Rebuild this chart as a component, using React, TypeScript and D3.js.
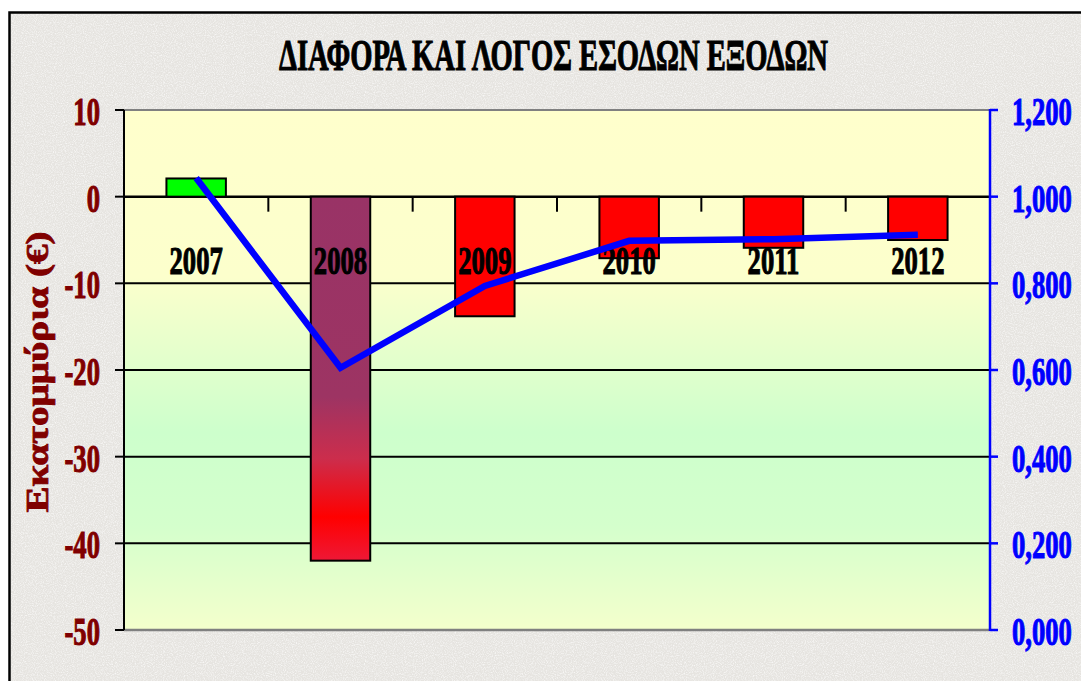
import React from "react";
import * as d3 from "d3";

const years = ["2007", "2008", "2009", "2010", "2011", "2012"];
const difference = [2.1, -42.0, -13.8, -7.1, -5.9, -5.0];
const ratio = [1.043, 0.605, 0.794, 0.898, 0.902, 0.912];
const leftTicks = [10, 0, -10, -20, -30, -40, -50];
const rightTicks = [0, 0.2, 0.4, 0.6, 0.8, 1.0, 1.2];

const title = "ΔΙΑΦΟΡΑ ΚΑΙ ΛΟΓΟΣ ΕΣΟΔΩΝ ΕΞΟΔΩΝ";
const yTitle = "Εκατομμύρια (€)";

const W = 1081;
const H = 681;
const plot = { left: 124, right: 990, top: 110, bottom: 630 };
const font = "'Liberation Serif', 'Times New Roman', serif";
const sx = 0.65; // the original is squeezed sideways

function Squeezed(props: any) {
  const { x, y, anchor, size, color, children, fit } = props;
  return (
    <text
      transform={`translate(${x},${y}) scale(${sx},1)`}
      textAnchor={anchor}
      fontFamily={font}
      fontWeight="bold"
      fontSize={size}
      fill={color}
      stroke={color}
      strokeWidth={1.1}
      textLength={fit ? fit / sx : undefined}
      lengthAdjust={fit ? "spacingAndGlyphs" : undefined}
    >
      {children}
    </text>
  );
}

export default function App() {
  const x = d3
    .scaleBand()
    .domain(years)
    .range([plot.left, plot.right])
    .paddingInner(0.588)
    .paddingOuter(0.294);
  const step = x.step();
  const yL = d3.scaleLinear().domain([-50, 10]).range([plot.bottom, plot.top]);
  const yR = d3.scaleLinear().domain([0, 1.2]).range([plot.bottom, plot.top]);
  const fmtR = (v: number) => d3.format(".3f")(v).replace(".", ",");
  const centre = (yr: string) => (x(yr) as number) + x.bandwidth() / 2;

  const line = d3
    .line<number>()
    .x((_, i) => centre(years[i]))
    .y((d) => yR(d));

  const minVal = d3.min(difference) as number;
  const barFill = (v: number) => (v > 0 ? "#00ff00" : v === minVal ? "url(#deep)" : "#ff0000");

  return (
    <svg width={W} height={H} style={{ position: "absolute", left: 0, top: 0 }}>
      <defs>
        <linearGradient id="plotBg" x1="0" y1="0" x2="0" y2="1">
          <stop offset="0" stopColor="#ffffcc" />
          <stop offset="0.32" stopColor="#fcffcc" />
          <stop offset="0.62" stopColor="#cdffcc" />
          <stop offset="0.8" stopColor="#d4ffcc" />
          <stop offset="1" stopColor="#f4ffcc" />
        </linearGradient>
        <linearGradient id="deep" x1="0" y1="0" x2="0" y2="1">
          <stop offset="0" stopColor="#993366" />
          <stop offset="0.55" stopColor="#9d3463" />
          <stop offset="0.72" stopColor="#cc2d4c" />
          <stop offset="0.88" stopColor="#ff0000" />
          <stop offset="1" stopColor="#ee1836" />
        </linearGradient>
        <filter id="grain" x="0" y="0" width="100%" height="100%">
          <feTurbulence type="fractalNoise" baseFrequency="0.9" numOctaves="2" seed="3" />
          <feColorMatrix type="matrix" values="0 0 0 0 1  0 0 0 0 1  0 0 0 0 1  0 0 0 -2.2 1.3" />
        </filter>
      </defs>

      <rect width={W} height={H} fill="#ffffff" />
      <rect x={9.5} y={12.5} width={1100} height={700} fill="#e6e4e0" stroke="#000" strokeWidth={2.5} />
      <rect x={11} y={14} width={1070} height={667} filter="url(#grain)" opacity={0.7} />

      <Squeezed x={279} y={70} anchor="start" size={45} color="#000" fit={549}>
        {title}
      </Squeezed>

      <rect
        x={plot.left}
        y={plot.top}
        width={plot.right - plot.left}
        height={plot.bottom - plot.top}
        fill="url(#plotBg)"
      />

      {leftTicks.filter((t) => t < 10 && t > -50).map((t) => (
        <line key={t} x1={plot.left} x2={plot.right} y1={yL(t)} y2={yL(t)} stroke="#000" strokeWidth={t === 0 ? 2.5 : 2} />
      ))}
      <line x1={plot.left} x2={plot.right} y1={plot.top} y2={plot.top} stroke="#808080" strokeWidth={2} />
      <line x1={plot.left} x2={plot.right} y1={plot.bottom} y2={plot.bottom} stroke="#808080" strokeWidth={2.5} />

      {years.slice(1).map((yr) => (
        <line key={yr} x1={(x(yr) as number) - (step - x.bandwidth()) / 2} x2={(x(yr) as number) - (step - x.bandwidth()) / 2}
          y1={yL(0)} y2={yL(0) + 15} stroke="#000" strokeWidth={2} />
      ))}

      {difference.map((v, i) => (
        <rect
          key={years[i]}
          x={x(years[i])}
          y={yL(Math.max(0, v))}
          width={x.bandwidth()}
          height={Math.abs(yL(v) - yL(0))}
          fill={barFill(v)}
          stroke="#000"
          strokeWidth={2}
        />
      ))}

      {years.map((yr) => (
        <Squeezed key={yr} x={centre(yr)} y={274} anchor="middle" size={41} color="#000">
          {yr}
        </Squeezed>
      ))}

      <path d={line(ratio) as string} fill="none" stroke="#0000ff" strokeWidth={6.5} strokeLinejoin="miter" />

      <line x1={plot.left} x2={plot.left} y1={plot.top} y2={plot.bottom} stroke="#000" strokeWidth={2} />
      {leftTicks.map((t) => (
        <g key={t}>
          <line x1={plot.left - 9} x2={plot.left} y1={yL(t)} y2={yL(t)} stroke="#000" strokeWidth={2} />
          <Squeezed x={100} y={yL(t) + 15} anchor="end" size={41} color="#800000">
            {String(t)}
          </Squeezed>
        </g>
      ))}

      <line x1={plot.right} x2={plot.right} y1={plot.top - 1} y2={plot.bottom + 1} stroke="#0000ff" strokeWidth={2.5} />
      {rightTicks.map((t) => (
        <g key={t}>
          <line x1={plot.right} x2={plot.right + 8} y1={yR(t)} y2={yR(t)} stroke="#0000ff" strokeWidth={2.5} />
          <Squeezed x={1012} y={yR(t) + 15} anchor="start" size={41} color="#0000ff">
            {fmtR(t)}
          </Squeezed>
        </g>
      ))}

      <text
        transform="translate(48,372) rotate(-90)"
        textAnchor="middle"
        fontFamily={font}
        fontWeight="bold"
        fontSize={31}
        fill="#800000"
        stroke="#800000"
        strokeWidth={0.8}
        textLength={281}
        lengthAdjust="spacingAndGlyphs"
      >
        {yTitle}
      </text>
    </svg>
  );
}
